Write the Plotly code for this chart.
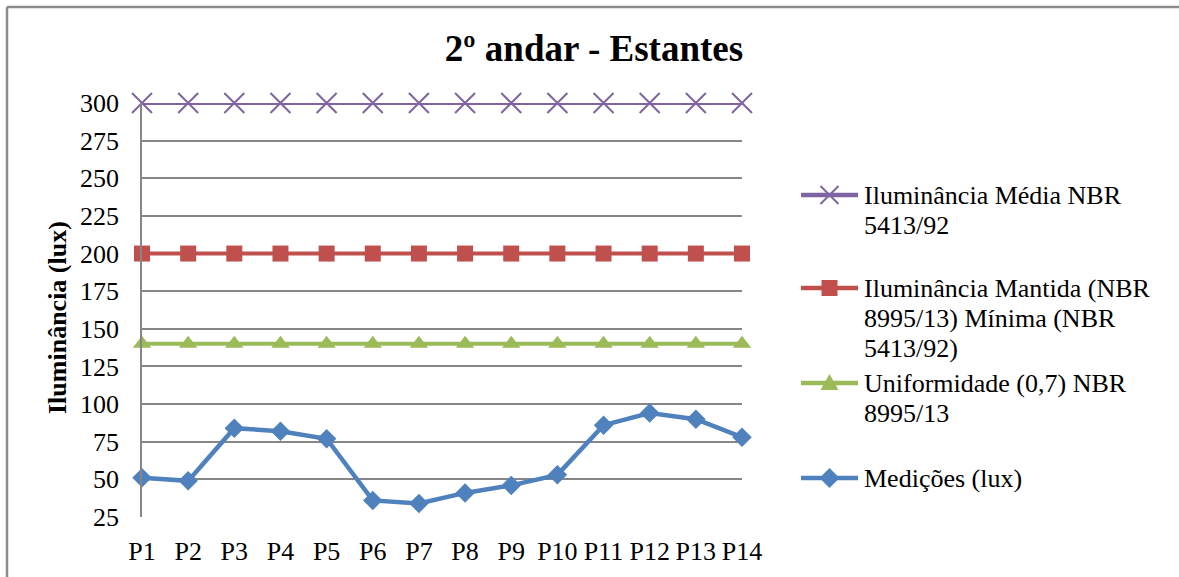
import plotly.graph_objects as go

# Measurement points along the shelves
points = ["P1", "P2", "P3", "P4", "P5", "P6", "P7", "P8", "P9", "P10", "P11", "P12", "P13", "P14"]

# Reference levels (lux)
media_nbr5413 = [300] * 14
mantida_minima = [200] * 14
uniformidade = [140] * 14

# Measured illuminance (lux)
medicoes = [51, 49, 84, 82, 77, 36, 34, 41, 46, 53, 86, 94, 90, 78]

y_ticks = [25, 50, 75, 100, 125, 150, 175, 200, 225, 250, 275, 300]

FONT = "Liberation Serif"
PURPLE = "#8064A2"
RED = "#C0504D"
GREEN = "#9BBB59"
BLUE = "#4F81BD"

W, H = 1179, 577
L, R, T, B = 142, 437, 103, 60
pw, ph = W - L - R, H - T - B


def px_x(x):
    return (x - L) / pw


def px_y(y):
    return (H - B - y) / ph


series = [
    dict(name=["Iluminância Média NBR", "5413/92"], y=media_nbr5413, color=PURPLE,
         glyph="x", marker=dict(symbol="x-thin-open", size=20, color=PURPLE,
                                line=dict(color=PURPLE, width=2))),
    dict(name=["Iluminância Mantida (NBR", "8995/13) Mínima (NBR", "5413/92)"],
         y=mantida_minima, color=RED,
         glyph="square", marker=dict(symbol="square", size=16, color=RED)),
    dict(name=["Uniformidade (0,7) NBR", "8995/13"], y=uniformidade, color=GREEN,
         glyph="triangle", marker=dict(symbol="triangle-up", size=16, color=GREEN)),
    dict(name=["Medições (lux)"], y=medicoes, color=BLUE,
         glyph="diamond", marker=dict(symbol="diamond", size=15, color=BLUE)),
]

fig = go.Figure()

for s in series:
    fig.add_trace(go.Scatter(
        x=points, y=s["y"], mode="lines+markers",
        name=" ".join(s["name"]),
        line=dict(color=s["color"], width=4.5 if s["color"] == BLUE else 4),
        marker=s["marker"], cliponaxis=False, showlegend=False,
    ))


def glyph_path(kind, cx, cy):
    """SVG path (paper coordinates) for a legend symbol centred at pixel (cx, cy)."""
    def p(dx, dy):
        return f"{px_x(cx + dx):.5f},{px_y(cy + dy):.5f}"
    if kind == "square":
        pts = [(-8, -8), (8, -8), (8, 8), (-8, 8)]
    elif kind == "triangle":
        pts = [(0, -9), (9, 7), (-9, 7)]
    elif kind == "diamond":
        pts = [(0, -10), (10, 0), (0, 10), (-10, 0)]
    else:
        return f"M{p(-9, -9)} L{p(9, 9)} M{p(-9, 9)} L{p(9, -9)}"
    return "M" + " L".join(p(dx, dy) for dx, dy in pts) + " Z"


# Legend on the right side of the plot
legend_first_line = [195, 288, 383, 478]
LINE_GAP = 30
SAMPLE_X0, SAMPLE_X1, TEXT_X = 801, 858, 862
for s, y0 in zip(series, legend_first_line):
    fig.add_shape(type="line", xref="paper", yref="paper",
                  x0=px_x(SAMPLE_X0), x1=px_x(SAMPLE_X1), y0=px_y(y0), y1=px_y(y0),
                  line=dict(color=s["color"], width=4.5))
    cx = (SAMPLE_X0 + SAMPLE_X1) / 2
    if s["glyph"] == "x":
        fig.add_shape(type="path", xref="paper", yref="paper",
                      path=glyph_path("x", cx, y0), line=dict(color=s["color"], width=2))
    else:
        fig.add_shape(type="path", xref="paper", yref="paper",
                      path=glyph_path(s["glyph"], cx, y0),
                      fillcolor=s["color"], line=dict(color=s["color"], width=0))
    for k, line_text in enumerate(s["name"]):
        fig.add_annotation(
            text=line_text, x=px_x(TEXT_X), y=px_y(y0 + k * LINE_GAP),
            xref="paper", yref="paper",
            xanchor="left", yanchor="middle", showarrow=False,
            font=dict(family=FONT, size=26, color="black"),
        )

fig.update_layout(
    width=W, height=H,
    margin=dict(l=L, r=R, t=T, b=B, pad=0, autoexpand=False),
    paper_bgcolor="white", plot_bgcolor="white",
    font=dict(family=FONT, size=26, color="black"),
    showlegend=False,
    title=dict(text="<b>2º andar - Estantes</b>",
               font=dict(family=FONT, size=37, color="black"),
               x=594 / W, xanchor="center", xref="container",
               y=1 - 48 / H, yanchor="middle", yref="container"),
    xaxis=dict(
        type="category", range=[0, 13],
        showgrid=False, showline=False, zeroline=False,
        ticks="", ticklabelstandoff=16,
        tickfont=dict(family=FONT, size=26, color="black"),
        fixedrange=True,
    ),
    yaxis=dict(
        range=[25, 300], tickvals=y_ticks,
        showgrid=True, gridcolor="#868686", gridwidth=1.5,
        showline=True, linecolor="#868686", linewidth=1.5,
        zeroline=False, ticks="", ticklabelstandoff=16,
        tickfont=dict(family=FONT, size=26, color="black"),
        fixedrange=True,
    ),
)

# Vertical axis title
fig.add_annotation(
    text="<b>Iluminância (lux)</b>", textangle=-90,
    x=px_x(57), y=px_y(318), xref="paper", yref="paper",
    xanchor="center", yanchor="middle", showarrow=False,
    font=dict(family=FONT, size=26, color="black"),
)

# Chart frame (top and left edges)
frame = dict(color="#8c8c8c", width=2.5)
fig.add_shape(type="line", xref="paper", yref="paper",
              x0=px_x(7), x1=px_x(W + 5), y0=px_y(7), y1=px_y(7), line=frame)
fig.add_shape(type="line", xref="paper", yref="paper",
              x0=px_x(7), x1=px_x(7), y0=px_y(7), y1=px_y(H + 5), line=frame)

fig.write_html("out.html")
